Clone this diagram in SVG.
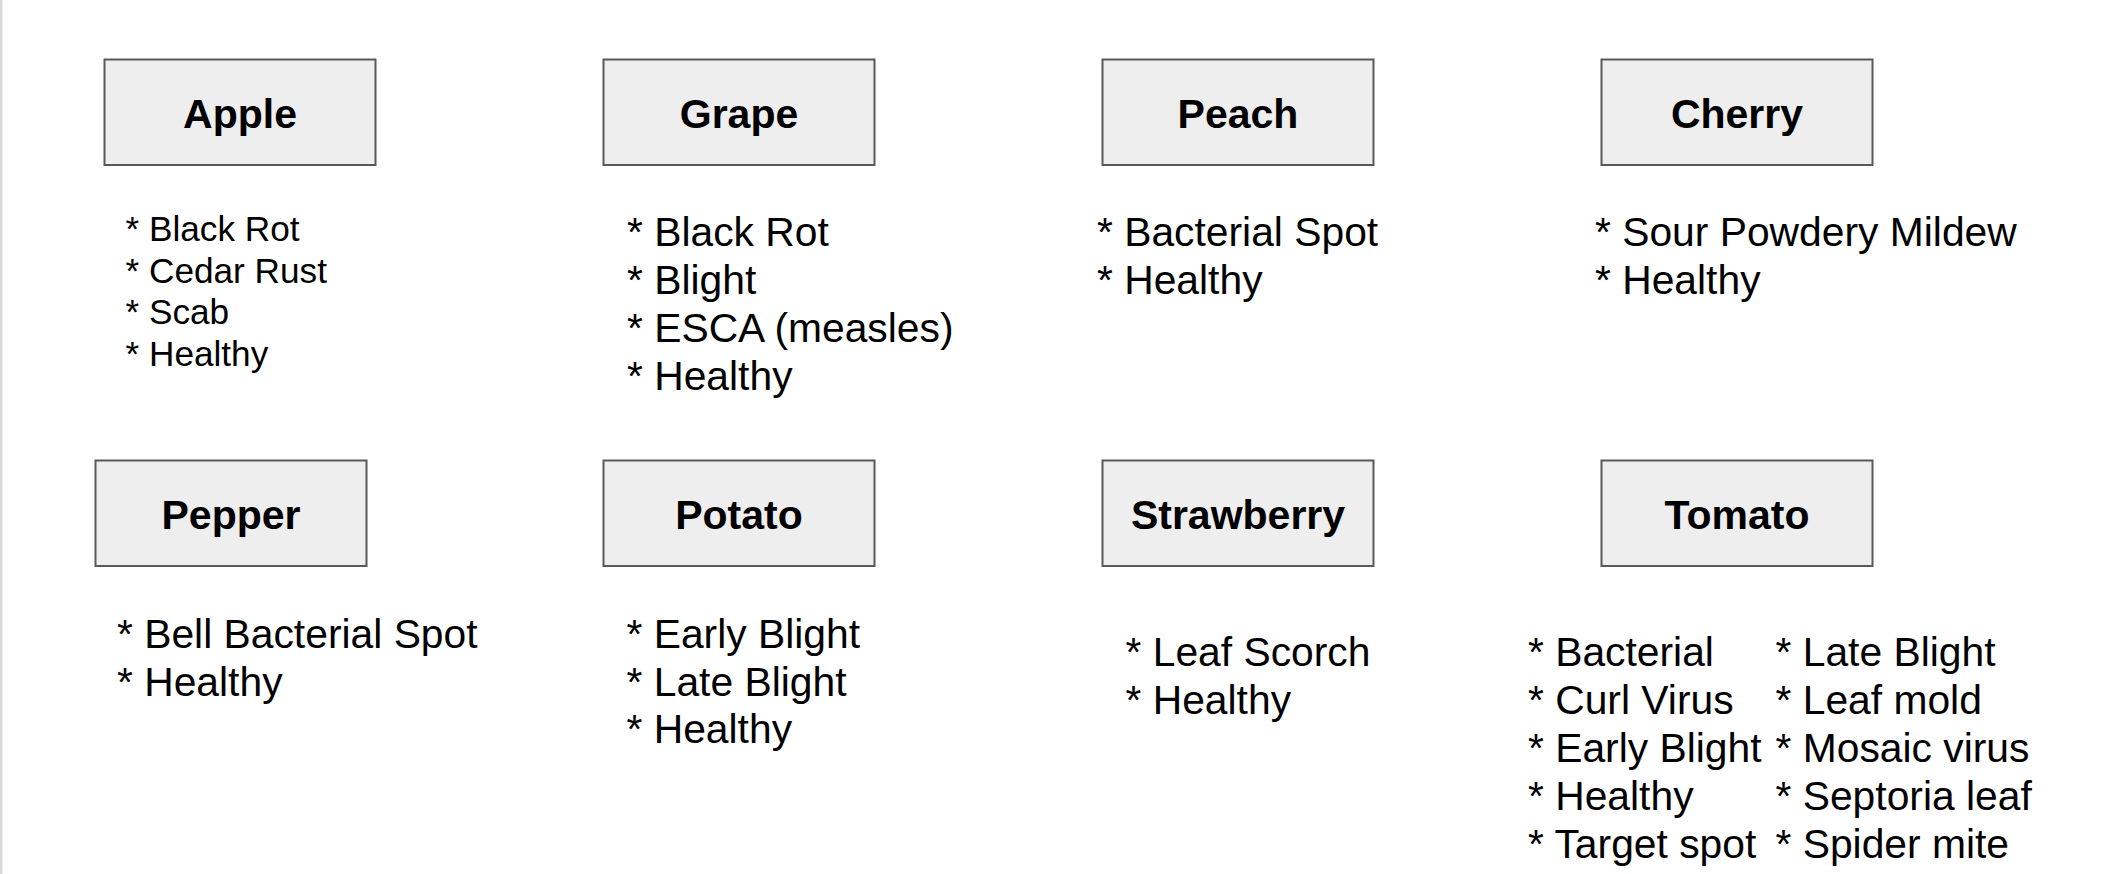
<svg xmlns="http://www.w3.org/2000/svg" width="2103" height="874" viewBox="0 0 2103 874">
<style>
.box{fill:#eeeeee;stroke:#595959;stroke-width:2}
.lbl{font-family:"Liberation Sans",Arial,sans-serif;font-weight:bold;font-size:41px;fill:#000;text-anchor:middle}
.lst{font-family:"Liberation Sans",Arial,sans-serif;font-size:40.8px;fill:#000}
.sm{font-size:35.2px}
</style>
<rect x="0" y="0" width="2103" height="874" fill="#ffffff"/>
<rect x="0" y="0" width="2.5" height="874" fill="#d9d9d9"/>
<g id="apple">
<rect class="box" x="104.5" y="59.5" width="271" height="105.5"/>
<text class="lbl" x="240" y="128">Apple</text>
<text class="lst sm" x="125.5"><tspan x="125.5" y="241">* Black Rot</tspan><tspan x="125.5" y="282.5">* Cedar Rust</tspan><tspan x="125.5" y="324">* Scab</tspan><tspan x="125.5" y="365.5">* Healthy</tspan></text>
</g>
<g id="grape">
<rect class="box" x="603.5" y="59.5" width="271" height="105.5"/>
<text class="lbl" x="739" y="128">Grape</text>
<text class="lst" x="627"><tspan x="627" y="246">* Black Rot</tspan><tspan x="627" y="294">* Blight</tspan><tspan x="627" y="342">* ESCA (measles)</tspan><tspan x="627" y="390">* Healthy</tspan></text>
</g>
<g id="peach">
<rect class="box" x="1102.5" y="59.5" width="271" height="105.5"/>
<text class="lbl" x="1238" y="128">Peach</text>
<text class="lst" x="1097"><tspan x="1097" y="246">* Bacterial Spot</tspan><tspan x="1097" y="294">* Healthy</tspan></text>
</g>
<g id="cherry">
<rect class="box" x="1601.5" y="59.5" width="271" height="105.5"/>
<text class="lbl" x="1737" y="128">Cherry</text>
<text class="lst" x="1595"><tspan x="1595" y="246">* Sour Powdery Mildew</tspan><tspan x="1595" y="294">* Healthy</tspan></text>
</g>
<g id="pepper">
<rect class="box" x="95.5" y="460.5" width="271" height="105.5"/>
<text class="lbl" x="231" y="529">Pepper</text>
<text class="lst" x="117"><tspan x="117" y="647.5">* Bell Bacterial Spot</tspan><tspan x="117" y="695.5">* Healthy</tspan></text>
</g>
<g id="potato">
<rect class="box" x="603.5" y="460.5" width="271" height="105.5"/>
<text class="lbl" x="739" y="529">Potato</text>
<text class="lst" x="626.5"><tspan x="626.5" y="647.5">* Early Blight</tspan><tspan x="626.5" y="695.5">* Late Blight</tspan><tspan x="626.5" y="743">* Healthy</tspan></text>
</g>
<g id="strawberry">
<rect class="box" x="1102.5" y="460.5" width="271" height="105.5"/>
<text class="lbl" x="1238" y="529">Strawberry</text>
<text class="lst" x="1125.5"><tspan x="1125.5" y="666">* Leaf Scorch</tspan><tspan x="1125.5" y="714">* Healthy</tspan></text>
</g>
<g id="tomato">
<rect class="box" x="1601.5" y="460.5" width="271" height="105.5"/>
<text class="lbl" x="1737" y="529">Tomato</text>
<text class="lst" x="1528"><tspan x="1528" y="666">* Bacterial</tspan><tspan x="1528" y="714">* Curl Virus</tspan><tspan x="1528" y="762">* Early Blight</tspan><tspan x="1528" y="810">* Healthy</tspan><tspan x="1528" y="858">* Target spot</tspan></text>
<text class="lst" x="1775.5"><tspan x="1775.5" y="666">* Late Blight</tspan><tspan x="1775.5" y="714">* Leaf mold</tspan><tspan x="1775.5" y="762">* Mosaic virus</tspan><tspan x="1775.5" y="810">* Septoria leaf</tspan><tspan x="1775.5" y="858">* Spider mite</tspan></text>
</g>
<g id="connectors"></g>
</svg>
